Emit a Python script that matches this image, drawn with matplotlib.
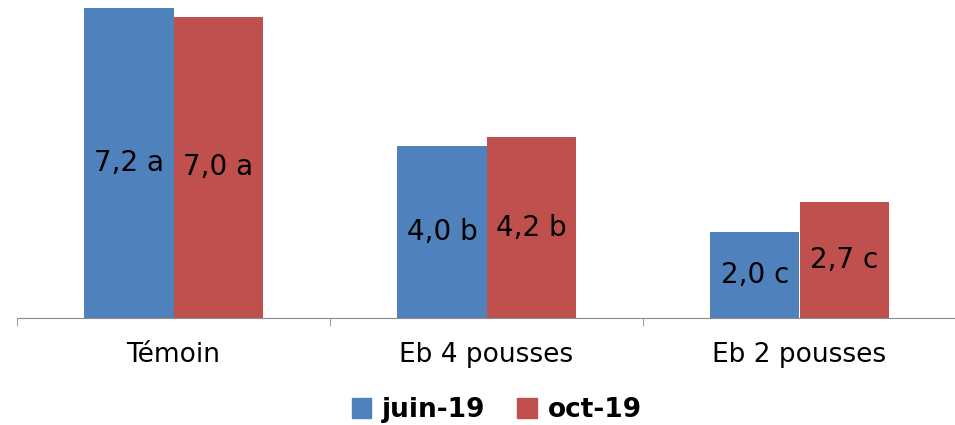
import matplotlib

matplotlib.use("Agg")
import matplotlib.pyplot as plt
import numpy as np
from matplotlib.patches import Patch

categories = ["Témoin", "Eb 4 pousses", "Eb 2 pousses"]
series = ["juin-19", "oct-19"]
juin = [7.2, 4.0, 2.0]
octo = [7.0, 4.2, 2.7]
letters_juin = ["a", "b", "c"]
letters_oct = ["a", "b", "c"]
colors = ["#4F81BD", "#C0504D"]

fig = plt.figure(figsize=(9.55, 4.25), dpi=100)
ax = fig.add_axes([17 / 955, 107 / 425, 939 / 955, 318 / 425])

x = np.arange(len(categories))
w = 0.285
b1 = ax.bar(x - w / 2, juin, w, color=colors[0])
b2 = ax.bar(x + w / 2, octo, w, color=colors[1])

for bars, vals, lets in [(b1, juin, letters_juin), (b2, octo, letters_oct)]:
    for rect, v, l in zip(bars, vals, lets):
        ax.text(rect.get_x() + rect.get_width() / 2, v / 2,
                f"{v:.1f}".replace(".", ",") + " " + l,
                ha="center", va="center", fontsize=20, color="black")

ax.set_xlim(-0.5, 2.5)
ax.set_ylim(0, 7.385)
for s in ["left", "right", "top"]:
    ax.spines[s].set_visible(False)
ax.spines["bottom"].set_color("#8c8c8c")
ax.set_yticks([])
ax.set_xticks(x)
ax.set_xticklabels(categories, fontsize=19)
ax.tick_params(axis="x", which="major", length=0, pad=17)
ax.set_xticks([-0.5, 0.5, 1.5, 2.5], minor=True)
ax.tick_params(axis="x", which="minor", length=6, color="#8c8c8c")

handles = [Patch(color=c) for c in colors]
fig.legend(handles, series, loc="center", bbox_to_anchor=(0.52, 0.035),
           ncol=2, frameon=False, prop={"weight": "bold", "size": 19},
           handlelength=0.75, handleheight=0.75, handletextpad=0.4,
           columnspacing=1.2)

fig.savefig("out.png", dpi=100)
